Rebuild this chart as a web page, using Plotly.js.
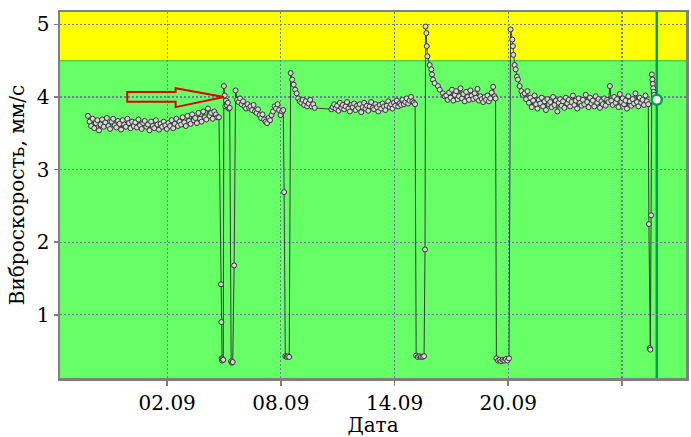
<!DOCTYPE html>
<html>
<head>
<meta charset="utf-8">
<script src="https://cdn.plot.ly/plotly-3.0.1.min.js"></script>
<style>html,body{margin:0;padding:0;background:#fff}#chart{width:691px;height:437px}</style>
</head>
<body>
<div id="chart"></div>
<script>
// Time base: hours counted from this moment
const baseDate = "2023-08-27T00:00:00Z";

// Tick labels
const tickDates = ["2023-09-02", "2023-09-08", "2023-09-14", "2023-09-20", "2023-09-26"];
const tickLabels = ["02.09", "08.09", "14.09", "20.09", ""];

// Regular runs (start hour, step in hours, values in mm/s)
const run1Start = 43.6, run1Step = 2.0;
const run1Values = [3.74, 3.66, 3.60, 3.70, 3.57, 3.64, 3.68, 3.54, 3.62, 3.69,
  3.59, 3.65, 3.71, 3.60, 3.56, 3.66, 3.70, 3.61, 3.58, 3.67,
  3.63, 3.55, 3.68, 3.62, 3.59, 3.70, 3.64, 3.57, 3.66, 3.60,
  3.65, 3.58, 3.69, 3.61, 3.56, 3.64, 3.67, 3.59, 3.62, 3.54,
  3.66, 3.60, 3.57, 3.68, 3.62, 3.55, 3.63, 3.59, 3.66, 3.61,
  3.56, 3.64, 3.60, 3.68, 3.57, 3.63, 3.70, 3.60, 3.66, 3.62,
  3.72, 3.65, 3.60, 3.74, 3.67, 3.63, 3.76, 3.68, 3.71, 3.64,
  3.78, 3.70, 3.66, 3.80, 3.72, 3.69, 3.84, 3.74, 3.78, 3.70,
  3.80, 3.76, 3.72];

const trans1Hours = [209.6, 212.2, 212.6, 213.0, 213.6, 214.3, 215.0, 215.8, 216.8, 217.6, 218.6, 219.6, 220.8, 222.0, 223.2, 225.0, 226.0, 227.0, 228.8, 230.6];
const trans1Values = [3.72, 1.42, 0.90, 0.40, 0.37, 0.39, 0.38, 4.15, 4.02, 3.87, 3.95, 3.88, 3.92, 3.84, 3.85, 0.36, 0.34, 0.35, 1.68, 4.09];

const run2Start = 232.5, run2Step = 1.9;
const run2Values = [3.96, 3.93, 3.98, 3.90, 3.94, 3.87, 3.84, 3.90, 3.85, 3.87,
  3.82, 3.89, 3.80, 3.78, 3.83, 3.75, 3.71, 3.76, 3.69, 3.66,
  3.64, 3.71, 3.68, 3.75, 3.80, 3.87, 3.84, 3.90, 3.82, 3.75, 3.80];

const trans2Hours = [291.0, 292.1, 293.6, 295.3, 297.0, 298.6];
const trans2Values = [3.82, 2.69, 0.43, 0.42, 0.43, 0.42];

const run3aStart = 300.4, run3aStep = 1.9;
const run3aValues = [4.33, 4.24, 4.17, 4.10, 4.05, 3.98, 3.94, 3.92, 3.96, 3.89, 3.94, 3.87, 3.91, 3.96, 3.87, 3.90, 3.85];

const run3bStart = 352.0, run3bStep = 1.8;
const run3bValues = [3.83, 3.86, 3.90, 3.84, 3.88, 3.81, 3.92, 3.85, 3.89, 3.83,
  3.87, 3.93, 3.84, 3.80, 3.89, 3.86, 3.91, 3.82, 3.88, 3.85,
  3.90, 3.79, 3.86, 3.92, 3.84, 3.88, 3.81, 3.87, 3.93, 3.85,
  3.83, 3.90, 3.86, 3.80, 3.89, 3.84, 3.91, 3.87, 3.82, 3.88,
  3.94, 3.86, 3.90, 3.84, 3.92, 3.88, 3.95, 3.87, 3.91, 3.89,
  3.96, 3.90, 3.93, 3.98, 3.91, 3.95, 4.00, 3.94, 3.92];

const trans3Hours = [458.0, 459.4, 461.4, 463.4, 465.4, 467.4, 469.4, 470.6];
const trans3Values = [3.90, 0.44, 0.42, 0.43, 0.42, 0.42, 0.43, 1.90];

const decay4Hours = [471.3, 472.3, 472.8, 473.6, 476.5, 478.6, 479.4, 480.7, 482.8, 487.0, 489.2, 493.3, 495.5];
const decay4Values = [4.97, 4.88, 4.70, 4.56, 4.44, 4.38, 4.31, 4.24, 4.19, 4.15, 4.10, 4.05, 4.01];

const run4Start = 497.5, run4Step = 1.8;
const run4Values = [4.02, 3.96, 4.06, 3.99, 4.10, 3.95, 4.03, 4.08, 3.97, 4.01,
  4.12, 3.98, 4.04, 3.94, 4.07, 4.00, 3.96, 4.09, 4.02, 3.97,
  4.05, 3.99, 4.11, 3.95, 4.01, 3.97, 3.93, 4.00, 3.96, 4.02,
  3.94, 3.98, 4.06, 4.14, 4.01];

const trans4Hours = [560.0, 561.0, 563.0, 565.0, 567.0, 569.0, 571.0, 573.0, 575.0, 577.0];
const trans4Values = [3.98, 0.40, 0.37, 0.38, 0.36, 0.38, 0.37, 0.39, 0.37, 0.40];

const decay5Hours = [579.0, 581.2, 581.9, 582.4, 584.1, 585.4, 587.0, 588.3, 590.5, 592.6, 594.6];
const decay5Values = [4.93, 4.79, 4.70, 4.58, 4.44, 4.38, 4.28, 4.24, 4.15, 4.08, 4.03];

const run5Start = 596.8, run5Step = 1.8;
const run5Values = [4.05, 3.97, 4.08, 3.92, 3.99, 3.86, 3.95, 4.02, 3.90, 3.84,
  3.96, 3.91, 3.99, 3.87, 3.94, 3.82, 3.97, 3.90, 3.93, 3.86,
  4.00, 3.89, 3.95, 3.80, 3.92, 3.97, 3.88, 3.94, 3.85, 3.99,
  3.91, 3.96, 3.87, 3.93, 4.02, 3.89, 3.95, 3.84, 3.98, 3.92,
  3.88, 3.96, 3.90, 4.03, 3.93, 3.86, 3.99, 3.91, 3.95, 3.87,
  4.01, 3.92, 3.97, 3.85, 3.94, 3.90, 3.98, 3.88, 3.96, 3.93,
  4.15, 3.95, 3.89, 4.00, 3.92, 3.97, 3.86, 4.04, 3.93, 3.98,
  3.90, 3.95, 3.84, 4.01, 3.94, 3.88, 3.97, 3.91, 4.05, 3.93,
  3.87, 3.99, 3.92, 3.96, 3.89, 4.02, 3.94, 3.90];

const trans5Hours = [754.2, 755.2, 756.0, 757.0, 757.9, 758.6, 759.2, 759.7, 760.2, 760.8];
const trans5Values = [2.25, 0.54, 0.52, 2.37, 4.31, 4.24, 4.18, 4.12, 4.07, 4.03];

// Cursor (current reading)
const cursorHours = 764.2, cursorValue = 3.96;

// Thresholds and axis range
const warnLevel = 4.5;
const yRange = [0.13, 5.17];
const xRangeHours = [8.2, 801.2];

// ---- build ----
const baseMs = Date.parse(baseDate);
function hToDate(h) {
  return new Date(baseMs + h * 3600e3).toISOString().replace('T', ' ').slice(0, 19);
}
const xs = [], ys = [];
function addRun(start, step, vals) {
  vals.forEach((v, i) => { xs.push(hToDate(start + i * step)); ys.push(v); });
}
function addPts(hours, vals) {
  hours.forEach((h, i) => { xs.push(hToDate(h)); ys.push(vals[i]); });
}
addRun(run1Start, run1Step, run1Values);
addPts(trans1Hours, trans1Values);
addRun(run2Start, run2Step, run2Values);
addPts(trans2Hours, trans2Values);
addRun(run3aStart, run3aStep, run3aValues);
addRun(run3bStart, run3bStep, run3bValues);
addPts(trans3Hours, trans3Values);
addPts(decay4Hours, decay4Values);
addRun(run4Start, run4Step, run4Values);
addPts(trans4Hours, trans4Values);
addPts(decay5Hours, decay5Values);
addRun(run5Start, run5Step, run5Values);
addPts(trans5Hours, trans5Values);

const font = {family: '"DejaVu Serif", "Liberation Serif", serif', size: 20, color: '#000'};
const gridColor = '#6a7ea4';
const frameColor = '#7f7f7f';

const traces = [
  {
    x: xs, y: ys, type: 'scatter', mode: 'lines+markers',
    line: {color: '#3a3a3a', width: 1},
    marker: {symbol: 'circle', size: 5, color: '#d8d8d8', line: {color: '#333333', width: 1}},
    hoverinfo: 'skip', showlegend: false
  },
  {
    x: [hToDate(cursorHours)], y: [cursorValue], type: 'scatter', mode: 'markers',
    marker: {symbol: 'circle', size: 10, color: '#ffffff', line: {color: '#00a04a', width: 2.5}},
    showlegend: false, cliponaxis: false
  }
];

const layout = {
  width: 691, height: 437,
  margin: {l: 60, r: 5, t: 12, b: 59},
  paper_bgcolor: '#ffffff',
  plot_bgcolor: '#66ff66',
  font: font,
  showlegend: false,
  xaxis: {
    type: 'date',
    range: [hToDate(xRangeHours[0]), hToDate(xRangeHours[1])],
    tickmode: 'array', tickvals: tickDates, ticktext: tickLabels,
    showgrid: true, gridcolor: gridColor, gridwidth: 1.2, griddash: '2px,2px',
    showline: true, linecolor: frameColor, linewidth: 2.5, mirror: true,
    ticks: 'outside', ticklen: 5, tickwidth: 1.5, tickcolor: frameColor,
    tickfont: font, zeroline: false,
    title: {text: 'Дата', font: font, standoff: 4}
  },
  yaxis: {
    range: yRange,
    tickmode: 'array', tickvals: [1, 2, 3, 4, 5], ticktext: ['1', '2', '3', '4', '5'],
    showgrid: true, gridcolor: gridColor, gridwidth: 1.2, griddash: '2px,2px',
    showline: true, linecolor: frameColor, linewidth: 2.5, mirror: true,
    ticks: 'outside', ticklen: 4, tickwidth: 1.5, tickcolor: frameColor,
    tickfont: font, zeroline: false,
    title: {text: 'Виброскорость, мм/с', font: font, standoff: 7}
  },
  shapes: [
    {type: 'rect', xref: 'paper', yref: 'y', x0: 0, x1: 1, y0: warnLevel, y1: yRange[1],
     fillcolor: '#ffff00', line: {width: 0}, layer: 'below'},
    {type: 'line', xref: 'paper', yref: 'y', x0: 0, x1: 1, y0: warnLevel, y1: warnLevel,
     line: {color: '#4fd04f', width: 1.5}, layer: 'below'},
    {type: 'line', xref: 'x', yref: 'paper', x0: hToDate(cursorHours), x1: hToDate(cursorHours), y0: 0, y1: 1,
     line: {color: '#00a04a', width: 2.5}, layer: 'between'},
    {type: 'path', xref: 'paper', yref: 'y',
     path: 'M 0.1074 4.07 L 0.1847 4.07 L 0.1847 4.12 L 0.2618 4.0 L 0.1847 3.86 L 0.1847 3.935 L 0.1074 3.935 Z',
     line: {color: '#e00000', width: 2}, fillcolor: 'rgba(0,0,0,0)', layer: 'above'}
  ]
};

Plotly.newPlot('chart', traces, layout, {staticPlot: true, displayModeBar: false});
</script>
</body>
</html>
